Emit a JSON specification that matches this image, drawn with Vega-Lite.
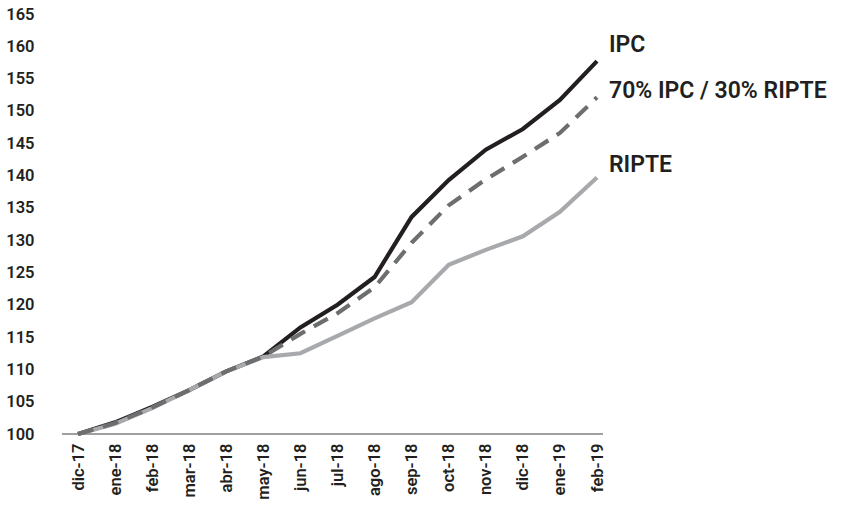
{
  "$schema": "https://vega.github.io/schema/vega-lite/v6.json",
  "width": 541,
  "height": 420,
  "autosize": {"type": "none"},
  "padding": {"left": 62, "top": 14, "right": 239, "bottom": 73},
  "background": "white",
  "config": {
    "view": {"stroke": null},
    "font": "Roboto",
    "axis": {"labelFont": "Roboto", "labelFontWeight": 600, "labelColor": "#231f20", "labelFontSize": 16.5}
  },
  "data": {
    "values": [
      {"mes": "dic-17", "serie": "IPC", "valor": 100},
      {"mes": "ene-18", "serie": "IPC", "valor": 101.8},
      {"mes": "feb-18", "serie": "IPC", "valor": 104.2},
      {"mes": "mar-18", "serie": "IPC", "valor": 106.8},
      {"mes": "abr-18", "serie": "IPC", "valor": 109.7},
      {"mes": "may-18", "serie": "IPC", "valor": 112.0},
      {"mes": "jun-18", "serie": "IPC", "valor": 116.5},
      {"mes": "jul-18", "serie": "IPC", "valor": 120.0},
      {"mes": "ago-18", "serie": "IPC", "valor": 124.3},
      {"mes": "sep-18", "serie": "IPC", "valor": 133.6},
      {"mes": "oct-18", "serie": "IPC", "valor": 139.3},
      {"mes": "nov-18", "serie": "IPC", "valor": 144.0},
      {"mes": "dic-18", "serie": "IPC", "valor": 147.2},
      {"mes": "ene-19", "serie": "IPC", "valor": 151.7},
      {"mes": "feb-19", "serie": "IPC", "valor": 157.7},
      {"mes": "dic-17", "serie": "70% IPC / 30% RIPTE", "valor": 100},
      {"mes": "ene-18", "serie": "70% IPC / 30% RIPTE", "valor": 101.7},
      {"mes": "feb-18", "serie": "70% IPC / 30% RIPTE", "valor": 104.1},
      {"mes": "mar-18", "serie": "70% IPC / 30% RIPTE", "valor": 106.8},
      {"mes": "abr-18", "serie": "70% IPC / 30% RIPTE", "valor": 109.7},
      {"mes": "may-18", "serie": "70% IPC / 30% RIPTE", "valor": 112.0},
      {"mes": "jun-18", "serie": "70% IPC / 30% RIPTE", "valor": 115.5},
      {"mes": "jul-18", "serie": "70% IPC / 30% RIPTE", "valor": 118.7},
      {"mes": "ago-18", "serie": "70% IPC / 30% RIPTE", "valor": 122.7},
      {"mes": "sep-18", "serie": "70% IPC / 30% RIPTE", "valor": 129.6},
      {"mes": "oct-18", "serie": "70% IPC / 30% RIPTE", "valor": 135.4},
      {"mes": "nov-18", "serie": "70% IPC / 30% RIPTE", "valor": 139.4},
      {"mes": "dic-18", "serie": "70% IPC / 30% RIPTE", "valor": 142.9},
      {"mes": "ene-19", "serie": "70% IPC / 30% RIPTE", "valor": 146.6},
      {"mes": "feb-19", "serie": "70% IPC / 30% RIPTE", "valor": 152.1},
      {"mes": "dic-17", "serie": "RIPTE", "valor": 100},
      {"mes": "ene-18", "serie": "RIPTE", "valor": 101.6},
      {"mes": "feb-18", "serie": "RIPTE", "valor": 104.0},
      {"mes": "mar-18", "serie": "RIPTE", "valor": 106.8},
      {"mes": "abr-18", "serie": "RIPTE", "valor": 109.7},
      {"mes": "may-18", "serie": "RIPTE", "valor": 111.9},
      {"mes": "jun-18", "serie": "RIPTE", "valor": 112.5},
      {"mes": "jul-18", "serie": "RIPTE", "valor": 115.2},
      {"mes": "ago-18", "serie": "RIPTE", "valor": 117.9},
      {"mes": "sep-18", "serie": "RIPTE", "valor": 120.4},
      {"mes": "oct-18", "serie": "RIPTE", "valor": 126.2},
      {"mes": "nov-18", "serie": "RIPTE", "valor": 128.5},
      {"mes": "dic-18", "serie": "RIPTE", "valor": 130.6},
      {"mes": "ene-19", "serie": "RIPTE", "valor": 134.4},
      {"mes": "feb-19", "serie": "RIPTE", "valor": 139.7}
    ]
  },
  "encoding": {
    "x": {
      "field": "mes",
      "type": "ordinal",
      "sort": null,
      "scale": {"type": "point", "range": [16, 535], "padding": 0},
      "axis": {"title": null, "domain": false, "ticks": false, "labelAngle": -90, "labelPadding": 9}
    },
    "y": {
      "field": "valor",
      "type": "quantitative",
      "scale": {"domain": [100, 165], "nice": false, "zero": false},
      "axis": {"title": null, "domain": false, "ticks": false, "grid": false, "values": [100,105,110,115,120,125,130,135,140,145,150,155,160,165], "labelPadding": 28}
    }
  },
  "layer": [
    {
      "mark": {"type": "rule", "color": "#a0a0a0", "strokeWidth": 1.5},
      "encoding": {"y": {"datum": 100}, "x": null}
    },
    {
      "transform": [{"filter": "datum.serie === 'IPC'"}],
      "mark": {"type": "line", "color": "#231f20", "strokeWidth": 4.2, "strokeJoin": "miter"}
    },
    {
      "transform": [{"filter": "datum.serie === 'RIPTE'"}],
      "mark": {"type": "line", "color": "#a7a9ac", "strokeWidth": 4.2, "strokeJoin": "miter"}
    },
    {
      "transform": [{"filter": "datum.serie === '70% IPC / 30% RIPTE'"}],
      "mark": {"type": "line", "color": "#6d6e70", "strokeWidth": 4.2, "strokeDash": [16, 10]}
    },
    {
      "transform": [{"filter": "datum.serie === 'IPC' && datum.mes === 'feb-19'"}],
      "mark": {"type": "text", "align": "left", "baseline": "middle", "dx": 12, "dy": -16, "fontSize": 23, "fontWeight": 600, "color": "#231f20"},
      "encoding": {"text": {"field": "serie"}}
    },
    {
      "transform": [{"filter": "datum.serie === '70% IPC / 30% RIPTE' && datum.mes === 'feb-19'"}],
      "mark": {"type": "text", "align": "left", "baseline": "middle", "dx": 12, "dy": -6, "fontSize": 23, "fontWeight": 600, "color": "#231f20"},
      "encoding": {"text": {"field": "serie"}}
    },
    {
      "transform": [{"filter": "datum.serie === 'RIPTE' && datum.mes === 'feb-19'"}],
      "mark": {"type": "text", "align": "left", "baseline": "middle", "dx": 12, "dy": -12, "fontSize": 23, "fontWeight": 600, "color": "#231f20"},
      "encoding": {"text": {"field": "serie"}}
    }
  ]
}
